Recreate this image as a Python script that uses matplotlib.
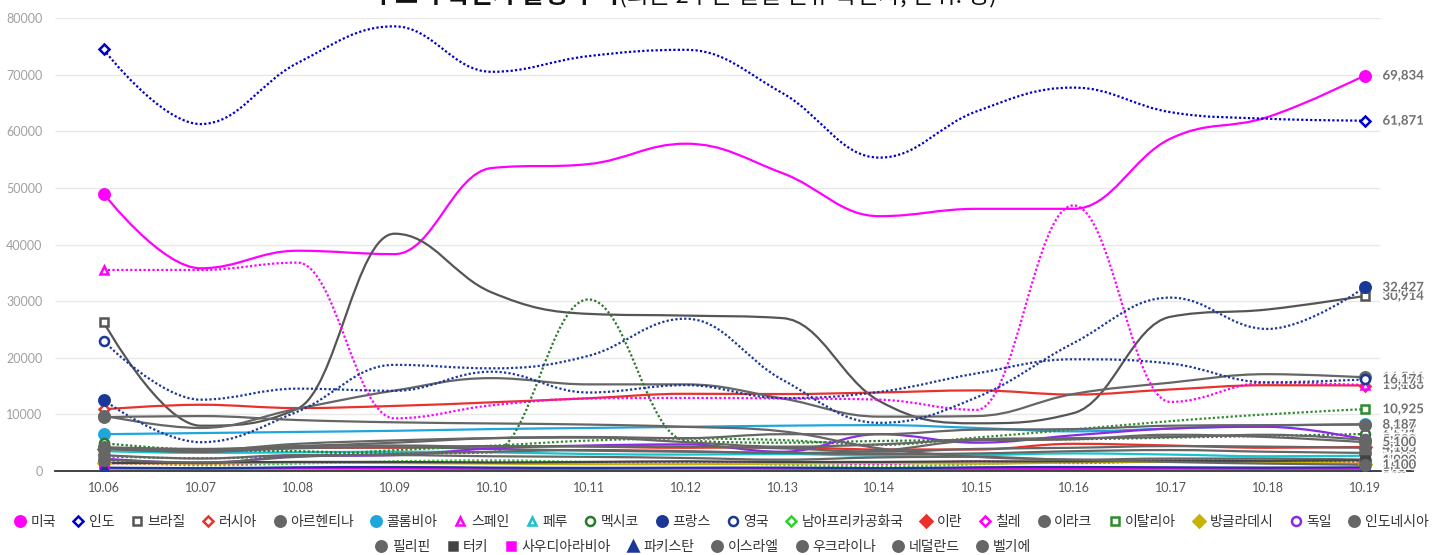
import matplotlib
matplotlib.use('Agg')
import matplotlib.pyplot as plt
import matplotlib.patheffects as pe
from matplotlib.path import Path
from matplotlib.patches import PathPatch
from matplotlib.lines import Line2D

KR = ['Noto Sans CJK KR', 'DejaVu Sans']
NUM = ['Lato', 'DejaVu Sans']

# ---- data (daily new cases per country) ----
dates = ['10.06', '10.07', '10.08', '10.09', '10.10', '10.11', '10.12',
         '10.13', '10.14', '10.15', '10.16', '10.17', '10.18', '10.19']

countries = ['미국', '인도', '브라질', '러시아', '아르헨티나', '콜롬비아', '스페인', '페루',
             '멕시코', '프랑스', '영국', '남아프리카공화국', '이란', '칠레', '이라크',
             '이탈리아', '방글라데시', '독일', '인도네시아', '필리핀', '터키', '사우디아라비아',
             '파키스탄', '이스라엘', '우크라이나', '네덜란드', '벨기에']

us = [49000, 35800, 38900, 38300, 53500, 54200, 57800, 52600, 45000, 46300, 46300, 58700, 62500, 69834]
india = [74442, 61267, 72049, 78524, 70496, 73272, 74383, 66732, 55342, 63509, 67708, 63371, 62212, 61871]
brazil = [26310, 8000, 11000, 41906, 31553, 27750, 27444, 27000, 12342, 8429, 10220, 27235, 28523, 30914]
russia = [10888, 11700, 11115, 11493, 12126, 12846, 13634, 13592, 13868, 14231, 13500, 14400, 15150, 15099]
argentina = [9800, 7600, 11000, 14200, 16400, 15300, 15300, 12800, 9600, 9700, 13600, 15600, 17100, 16546]
colombia = [6500, 6700, 6900, 7100, 7400, 7600, 7800, 8000, 8100, 7600, 7000, 7500, 8000, 8308]
spain = [35500, 35500, 36800, 9300, 11600, 12800, 12900, 12800, 12600, 10800, 46900, 12200, 15600, 15186]
peru = [3500, 3200, 3300, 3400, 3300, 3000, 2900, 3000, 2700, 2800, 3100, 2900, 2600, 2700]
mexico = [4900, 3700, 3500, 3100, 3300, 30300, 5400, 5000, 5300, 5500, 5600, 5900, 6200, 6531]
france = [12565, 5084, 10489, 18746, 18129, 20339, 26896, 16101, 8505, 12993, 22591, 30621, 25086, 32427]
uk = [22961, 12594, 14542, 14162, 17540, 13864, 15166, 12872, 13972, 17234, 19724, 18980, 15650, 16171]
south_africa = [1800, 1000, 1300, 1700, 1900, 1600, 1500, 1100, 800, 1200, 1800, 2000, 1800, 1700]
iran = [3900, 3800, 4100, 4100, 4400, 4300, 4100, 4200, 3800, 3800, 4800, 4500, 4100, 4251]
chile = [1400, 1200, 1500, 1500, 1600, 1400, 1300, 1500, 1200, 1700, 1400, 1700, 1500, 1400]
iraq = [3900, 3400, 4000, 4200, 3900, 3600, 3400, 3200, 3000, 3100, 3500, 3700, 3400, 3200]
italy = [2578, 2257, 2677, 3678, 4458, 5372, 5724, 5456, 4619, 5901, 7332, 8804, 10010, 10925]
bangladesh = [1400, 1300, 1500, 1400, 1300, 1200, 1200, 1300, 1400, 1300, 1500, 1600, 1500, 1300]
germany = [2200, 1400, 2600, 2800, 4000, 4500, 4700, 3400, 6500, 5000, 6300, 7500, 7800, 5587]
indonesia = [4000, 3400, 4400, 4500, 4300, 4400, 4300, 4000, 3400, 3900, 4100, 4400, 4300, 4105]
philippines = [2800, 2200, 2800, 2800, 2600, 2500, 2300, 2000, 2400, 2500, 2000, 2200, 2200, 2000]
turkey = [1400, 1500, 1600, 1600, 1500, 1600, 1700, 1600, 1600, 1700, 1700, 1800, 1800, 1900]
saudi = [450, 400, 430, 400, 380, 370, 420, 390, 380, 370, 360, 400, 380, 382]
pakistan = [600, 500, 650, 700, 600, 550, 580, 600, 500, 650, 700, 650, 600, 650]
israel = [9500, 9700, 9000, 8600, 8400, 8200, 7800, 7000, 4000, 2500, 2000, 1600, 1300, 1100]
ukraine = [4000, 3700, 4800, 5400, 5800, 5900, 5100, 4300, 4700, 5600, 5800, 6000, 6400, 5500]
netherlands = [4200, 3900, 4400, 5000, 5800, 6000, 5800, 6500, 6500, 7300, 7400, 8000, 8100, 8187]
belgium = [2000, 1500, 2500, 3000, 3400, 3700, 3500, 3200, 3600, 5400, 5600, 6400, 6000, 5100]

values = [us, india, brazil, russia, argentina, colombia, spain, peru, mexico, france, uk,
          south_africa, iran, chile, iraq, italy, bangladesh, germany, indonesia, philippines,
          turkey, saudi, pakistan, israel, ukraine, netherlands, belgium]

# ---- styles: color, marker, filled marker, dotted line ----
MAG, NAVY, GREY, RED = '#ff00ff', '#1b3797', '#666666', '#e8322d'
styles = [
    (MAG, 'o', True, False), ('#0000cc', 'D', False, True), ('#555555', 's', False, False),
    (RED, 'D', False, False), (GREY, 'o', True, False), ('#1fa6dc', 'o', True, False),
    (MAG, '^', False, True), ('#17c3cf', '^', False, False), ('#2b7a2b', 'o', False, True),
    (NAVY, 'o', True, True), (NAVY, 'o', False, True), ('#33cc33', 'D', False, True),
    (RED, 'D', True, False), (MAG, 'D', False, True), (GREY, 'o', True, False),
    ('#2e8b2e', 's', False, True), ('#c8b400', 'D', True, False), ('#8a2be2', 'o', False, False),
    (GREY, 'o', True, False), (GREY, 'o', True, False), ('#444444', 's', True, False),
    (MAG, 's', True, False), (NAVY, '^', True, False), (GREY, 'o', True, False),
    (GREY, 'o', True, False), (GREY, 'o', True, False), (GREY, 'o', True, False),
]

# marker size (filled, open) per shape
MARKER_SIZE = {'o': (7.5, 6.5), 'D': (5.8, 5.2), 's': (6.0, 6.2), '^': (6.8, 6.2)}


def spline_path(xs, ys, smoothing=1.5):
    # highcharts-like spline: bezier control points, no false extremes
    n = len(xs)
    denom = smoothing + 1
    lc, rc = [None] * n, [None] * n
    for i in range(1, n - 1):
        px, py = xs[i], ys[i]
        lx, ly = xs[i - 1], ys[i - 1]
        nx, ny = xs[i + 1], ys[i + 1]
        lcx, lcy = (smoothing * px + lx) / denom, (smoothing * py + ly) / denom
        rcx, rcy = (smoothing * px + nx) / denom, (smoothing * py + ny) / denom
        corr = (rcy - lcy) * (rcx - px) / (rcx - lcx) + py - rcy
        lcy += corr
        rcy += corr
        if lcy > ly and lcy > py:
            lcy = max(ly, py); rcy = 2 * py - lcy
        elif lcy < ly and lcy < py:
            lcy = min(ly, py); rcy = 2 * py - lcy
        if rcy > ny and rcy > py:
            rcy = max(ny, py); lcy = 2 * py - rcy
        elif rcy < ny and rcy < py:
            rcy = min(ny, py); lcy = 2 * py - rcy
        lc[i], rc[i] = (lcx, lcy), (rcx, rcy)
    verts, codes = [(xs[0], ys[0])], [Path.MOVETO]
    for i in range(1, n):
        c1 = rc[i - 1] or (xs[i - 1], ys[i - 1])
        c2 = lc[i] or (xs[i], ys[i])
        verts += [c1, c2, (xs[i], ys[i])]
        codes += [Path.CURVE4] * 3
    return Path(verts, codes)


def marker_kw(col, mk, filled):
    ms = MARKER_SIZE[mk][0 if filled else 1]
    return dict(marker=mk, ms=ms, mfc=col if filled else 'white', mec=col, mew=1.8)


W, H = 1439, 555
fig = plt.figure(figsize=(W / 100, H / 100), dpi=100)
ax = fig.add_axes([55 / W, 84 / H, (1413 - 55) / W, (471 - 18) / H])

x = list(range(len(dates)))
yticks = list(range(0, 80001, 10000))
ax.hlines(yticks[1:], -0.5, 13.16, color='#e8e8e8', lw=1, zorder=0)

for name, vals, (col, mk, filled, dotted) in zip(countries, values, styles):
    ls = (0, (1, 1)) if dotted else '-'
    ax.add_patch(PathPatch(spline_path(x, vals), fill=False, edgecolor=col,
                           lw=1.6, linestyle=ls, zorder=2))
    ax.plot([x[0], x[-1]], [vals[0], vals[-1]], linestyle='none', zorder=3,
            **marker_kw(col, mk, filled))
    ax.annotate(f'{vals[-1]:,}', (x[-1], vals[-1]), xytext=(18, 0),
                textcoords='offset pixels', va='center', ha='left', fontsize=9.5,
                fontweight='bold', color='#707070', family=NUM, zorder=4,
                path_effects=[pe.withStroke(linewidth=2, foreground='white')])

ax.set_xlim(-0.5, 13.5)
ax.set_ylim(0, 80000)
ax.set_xticks(x)
ax.set_xticklabels(dates, fontsize=9, color='#555555', family=NUM)
ax.set_yticks(yticks)
ax.set_yticklabels([str(v) for v in yticks], fontsize=9, color='#a0a0a0', family=NUM)
ax.tick_params(axis='x', length=0, pad=8)
ax.tick_params(axis='y', length=0, pad=9)
for s in ['top', 'right', 'left']:
    ax.spines[s].set_visible(False)
ax.spines['bottom'].set_color('#333333')
ax.spines['bottom'].set_linewidth(1.3)

# legend in two flowing rows
handles = [Line2D([], [], linestyle='none', **marker_kw(col, mk, filled))
           for col, mk, filled, dotted in styles]
row1 = 19
leg_kw = dict(frameon=False, loc='center', handlelength=0.9, handletextpad=0.3,
              columnspacing=1.18, prop={'family': KR, 'size': 10})
leg1 = fig.legend(handles[:row1], countries[:row1], ncol=row1,
                  bbox_to_anchor=(721 / W, 1 - 522 / H), **leg_kw)
leg2 = fig.legend(handles[row1:], countries[row1:], ncol=len(countries) - row1,
                  bbox_to_anchor=(703 / W, 1 - 547 / H), **leg_kw)
for leg in (leg1, leg2):
    for t in leg.get_texts():
        t.set_color('#333333')

# title, mostly cut off at the top edge as in the source
t1 = fig.text(372 / W, 1 - 8 / H, '주요국 확진자 발생 추이', fontsize=18, fontweight='bold',
              family=KR, va='bottom', ha='left', color='#111111')
fig.canvas.draw()
bb = t1.get_window_extent()
fig.text(bb.x1 / W, 1 - 8 / H, '(최근 2주간 일별 신규 확진자, 단위: 명)', fontsize=17,
         family=KR, va='bottom', ha='left', color='#111111')

fig.savefig('out.png', dpi=100)
